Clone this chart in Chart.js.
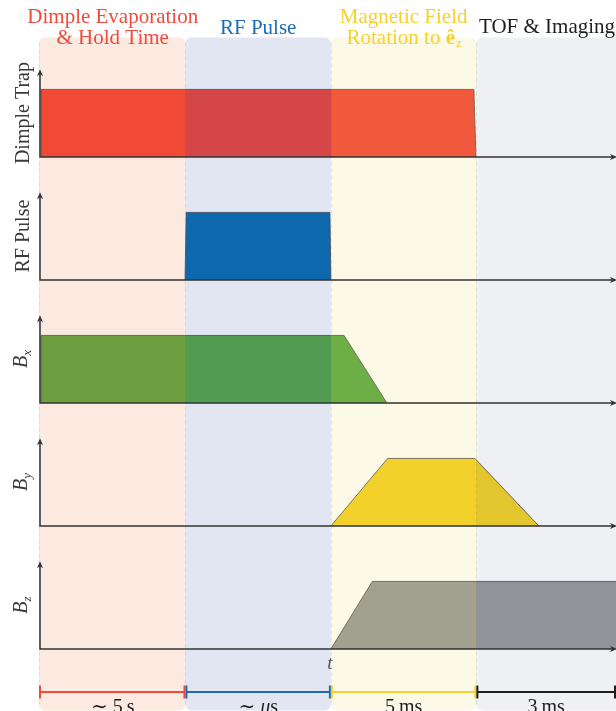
<!DOCTYPE html>
<html>
<head>
<meta charset="utf-8">
<script src="https://cdn.jsdelivr.net/npm/chart.js@4/dist/chart.umd.min.js"></script>
<style>
  html, body { margin: 0; padding: 0; background: #ffffff; }
  #wrap { width: 616px; height: 711px; position: relative; }
  canvas { display: block; }
</style>
</head>
<body>
<div id="wrap"><canvas id="seq" width="616" height="711"></canvas></div>
<script>
// Experimental sequence: phase boundaries on a shared time axis (arbitrary units per phase)
const phaseEdges = [0, 1, 2, 3, 3.96];
const phaseDurations = ['\u223C 5\u2009s', '\u223C \u03BCs', '5\u2009ms', '3\u2009ms'];
const phaseColors = ['#ef4a3b', '#1b6cb5', '#f5d12c', '#1e1e1e'];
const phaseTints = ['rgba(235,108,48,0.15)', 'rgba(55,88,168,0.15)', 'rgba(235,215,88,0.15)', 'rgba(95,105,135,0.10)'];

// Signal channels, top to bottom
const signalNames = ['Dimple Trap', 'RF Pulse', 'B_x', 'B_y', 'B_z'];
const signalColors = ['#f14438', '#086baf', '#58a844', '#f2d023', '#969899'];

// Waveforms (time, level)
const dimpleTime = [0.007, 0.007, 2.983, 2.997];
const dimpleLevel = [0, 1, 1, 0];
const rfTime = [0.997, 1.005, 1.993, 2.0];
const rfLevel = [0, 1, 1, 0];
const bxTime = [0.007, 0.007, 2.09, 2.385];
const bxLevel = [0, 1, 1, 0];
const byTime = [2.0, 2.39, 2.99, 3.43];
const byLevel = [0, 1, 1, 0];
const bzTime = [2.0, 2.285, 3.96];
const bzLevel = [0, 1, 1];

const waveTimes = [dimpleTime, rfTime, bxTime, byTime, bzTime];
const waveLevels = [dimpleLevel, rfLevel, bxLevel, byLevel, bzLevel];

const levelMax = 1.82;   // headroom above each channel
const arrowLevel = 1.3;  // top of each channel's vertical axis

const SERIF = '"Liberation Serif", "DejaVu Serif", serif';

const datasets = waveTimes.map((t, i) => ({
  label: signalNames[i],
  data: t.map((x, k) => ({ x: x, y: waveLevels[i][k] })),
  yAxisID: 'y' + i,
  showLine: true,
  fill: 'origin',
  tension: 0,
  pointRadius: 0,
  borderWidth: 1,
  borderColor: 'rgba(70,70,70,0.8)',
  backgroundColor: signalColors[i]
}));

// Left-side stacked scales are laid out from the last defined one downward,
// so the channel scales are registered bottom channel first.
const scales = {
  x: { type: 'linear', min: phaseEdges[0], max: phaseEdges[phaseEdges.length - 1], display: false }
};
for (let i = signalNames.length - 1; i >= 0; i--) {
  scales['y' + i] = {
    type: 'linear', min: 0, max: levelMax, display: false,
    position: 'left', stack: 'signals', stackWeight: 1
  };
}

function arrowHead(ctx, x, y, dir) {
  ctx.beginPath();
  if (dir === 'up') {
    ctx.moveTo(x, y);
    ctx.lineTo(x - 3, y + 7);
    ctx.lineTo(x, y + 5);
    ctx.lineTo(x + 3, y + 7);
  } else {
    ctx.moveTo(x, y);
    ctx.lineTo(x - 7, y - 3);
    ctx.lineTo(x - 5, y);
    ctx.lineTo(x - 7, y + 3);
  }
  ctx.closePath();
  ctx.fill();
}

function drawChannelLabel(ctx, name, x, y) {
  ctx.save();
  ctx.translate(x, y);
  ctx.rotate(-Math.PI / 2);
  ctx.fillStyle = '#3a3a3a';
  ctx.textBaseline = 'alphabetic';
  if (name.indexOf('_') > 0) {
    const [main, sub] = name.split('_');
    const fMain = 'italic 20px ' + SERIF;
    const fSub = 'italic 13px ' + SERIF;
    ctx.font = fMain;
    const w1 = ctx.measureText(main).width;
    ctx.font = fSub;
    const w2 = ctx.measureText(sub).width;
    const x0 = -(w1 + w2) / 2;
    ctx.textAlign = 'left';
    ctx.font = fMain;
    ctx.fillText(main, x0, -2);
    ctx.font = fSub;
    ctx.fillText(sub, x0 + w1, 2);
  } else {
    ctx.textAlign = 'center';
    ctx.font = '20px ' + SERIF;
    ctx.fillText(name, 0, 0);
  }
  ctx.restore();
}

const sequencePlugin = {
  id: 'sequence',
  afterDatasetsDraw(chart) {
    const ctx = chart.ctx;
    const xs = chart.scales.x;
    const H = chart.height;
    const W = chart.width;
    const px = v => xs.getPixelForValue(v);
    const bandTop = 37.5;
    const bandBottom = 710.5;

    // phase bands laid over the waveforms
    ctx.save();
    for (let i = 0; i < phaseTints.length; i++) {
      const l = px(phaseEdges[i]) - (i === 0 ? 1 : 0);
      const r = i === phaseTints.length - 1 ? W + 8 : px(phaseEdges[i + 1]);
      ctx.fillStyle = phaseTints[i];
      ctx.beginPath();
      ctx.roundRect(l, bandTop, r - l, bandBottom - bandTop, 6);
      ctx.fill();
    }
    ctx.setLineDash([4, 3]);
    ctx.strokeStyle = 'rgba(120,120,120,0.16)';
    ctx.lineWidth = 1;
    for (let i = 0; i < phaseEdges.length - 1; i++) {
      const x = Math.round(px(phaseEdges[i]) - (i === 0 ? 1 : 0)) + 0.5;
      ctx.beginPath();
      ctx.moveTo(x, bandTop + 5);
      ctx.lineTo(x, bandBottom - 5);
      ctx.stroke();
    }
    ctx.setLineDash([]);
    ctx.restore();

    // axes and channel labels
    ctx.save();
    ctx.strokeStyle = '#333333';
    ctx.fillStyle = '#333333';
    ctx.lineWidth = 1.5;
    const x0 = px(phaseEdges[0]);
    signalNames.forEach((name, i) => {
      const ys = chart.scales['y' + i];
      const yb = ys.getPixelForValue(0);
      const yt = ys.getPixelForValue(arrowLevel);
      ctx.beginPath();
      ctx.moveTo(x0, yb);
      ctx.lineTo(x0, yt + 4);
      ctx.moveTo(x0 - 0.75, yb);
      ctx.lineTo(W - 3, yb);
      ctx.stroke();
      arrowHead(ctx, x0, yt, 'up');
      arrowHead(ctx, W + 1, yb, 'right');
      drawChannelLabel(ctx, name, 29, ys.getPixelForValue(arrowLevel / 2));
    });
    ctx.restore();

    // time variable
    const yLast = chart.scales['y' + (signalNames.length - 1)].getPixelForValue(0);
    ctx.save();
    ctx.fillStyle = '#555555';
    ctx.font = 'italic 19px ' + SERIF;
    ctx.textAlign = 'center';
    ctx.textBaseline = 'alphabetic';
    ctx.fillText('t', px(phaseEdges[2]) - 1, yLast + 20);
    ctx.restore();

    // duration bar
    const yt = 692;
    ctx.save();
    for (let i = 0; i < phaseDurations.length; i++) {
      const l = px(phaseEdges[i]) + (i === 0 ? 0 : 1);
      const r = px(phaseEdges[i + 1]) - 1;
      ctx.strokeStyle = phaseColors[i];
      ctx.lineWidth = 2;
      ctx.beginPath();
      ctx.moveTo(l, yt);
      ctx.lineTo(r, yt);
      ctx.stroke();
      ctx.beginPath();
      ctx.moveTo(l, yt - 6.5);
      ctx.lineTo(l, yt + 6.5);
      ctx.moveTo(r, yt - 6.5);
      ctx.lineTo(r, yt + 6.5);
      ctx.stroke();
      ctx.fillStyle = '#1e1e1e';
      ctx.font = '20px ' + SERIF;
      ctx.textAlign = 'center';
      ctx.textBaseline = 'alphabetic';
      const mid = (px(phaseEdges[i]) + px(phaseEdges[i + 1])) / 2;
      const txt = phaseDurations[i];
      if (txt.indexOf('\u03BC') >= 0) {
        const a = '\u223C ', b = '\u03BC', c = 's';
        ctx.font = '20px ' + SERIF;
        const wa = ctx.measureText(a).width, wc = ctx.measureText(c).width;
        ctx.font = 'italic 20px ' + SERIF;
        const wb = ctx.measureText(b).width;
        let s = mid - (wa + wb + wc) / 2;
        ctx.textAlign = 'left';
        ctx.font = '20px ' + SERIF;
        ctx.fillText(a, s, 713);
        ctx.font = 'italic 20px ' + SERIF;
        ctx.fillText(b, s + wa, 713);
        ctx.font = '20px ' + SERIF;
        ctx.fillText(c, s + wa + wb, 713);
      } else {
        ctx.fillText(txt, mid, 713);
      }
    }
    ctx.restore();
  },
  afterDraw(chart) {
    const ctx = chart.ctx;
    const xs = chart.scales.x;
    const mid = i => (xs.getPixelForValue(phaseEdges[i]) + xs.getPixelForValue(phaseEdges[i + 1])) / 2;
    ctx.save();
    ctx.textBaseline = 'alphabetic';
    ctx.textAlign = 'center';
    ctx.font = '21px ' + SERIF;

    ctx.fillStyle = phaseColors[0];
    ctx.fillText('Dimple Evaporation', mid(0), 23);
    ctx.fillText('& Hold Time', mid(0), 44);

    ctx.fillStyle = phaseColors[1];
    ctx.fillText('RF Pulse', mid(1), 34);

    ctx.fillStyle = phaseColors[2];
    ctx.fillText('Magnetic Field', mid(2), 23);
    const a = 'Rotation to ';
    const fN = '21px ' + SERIF, fB = 'bold 21px ' + SERIF, fS = '13px ' + SERIF;
    ctx.font = fN; const wa = ctx.measureText(a).width;
    ctx.font = fB; const wb = ctx.measureText('\u00EA').width;
    ctx.font = fS; const wc = ctx.measureText('z').width;
    const s = mid(2) - (wa + wb + wc) / 2;
    ctx.textAlign = 'left';
    ctx.font = fN; ctx.fillText(a, s, 44);
    ctx.font = fB; ctx.fillText('\u00EA', s + wa, 44);
    ctx.font = fS; ctx.fillText('z', s + wa + wb + 1, 47);

    ctx.textAlign = 'center';
    ctx.font = fN;
    ctx.fillStyle = phaseColors[3];
    ctx.fillText('TOF & Imaging', 547, 33);
    ctx.restore();
  }
};

new Chart(document.getElementById('seq'), {
  type: 'line',
  data: { datasets: datasets },
  options: {
    responsive: false,
    devicePixelRatio: 1,
    animation: false,
    layout: { padding: { left: 40, right: 0, top: 34, bottom: 62 } },
    scales: scales,
    plugins: { legend: { display: false }, tooltip: { enabled: false } },
    events: []
  },
  plugins: [sequencePlugin]
});
</script>
</body>
</html>
